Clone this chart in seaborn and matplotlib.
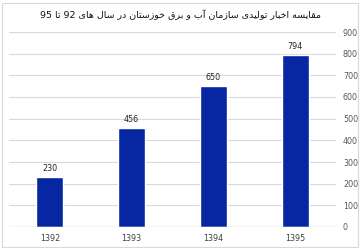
import matplotlib
matplotlib.use("Agg")
import matplotlib.pyplot as plt
import seaborn as sns
import pandas as pd
from matplotlib.patches import Rectangle

years = ["1392", "1393", "1394", "1395"]
values = [230, 456, 650, 794]
y_ticks = [0, 100, 200, 300, 400, 500, 600, 700, 800, 900]
title_text = "مقایسه اخبار تولیدی سازمان آب و برق خوزستان در سال های 92 تا 95"

# --- minimal Arabic/Persian shaping (matplotlib 3.10 has no text shaping) ---
FORMS = {  # isolated, final, initial, medial
    "ا": ("\uFE8D", "\uFE8E", None, None),
    "آ": ("\uFE81", "\uFE82", None, None),
    "ب": ("\uFE8F", "\uFE90", "\uFE91", "\uFE92"),
    "ت": ("\uFE95", "\uFE96", "\uFE97", "\uFE98"),
    "خ": ("\uFEA5", "\uFEA6", "\uFEA7", "\uFEA8"),
    "د": ("\uFEA9", "\uFEAA", None, None),
    "ر": ("\uFEAD", "\uFEAE", None, None),
    "ز": ("\uFEAF", "\uFEB0", None, None),
    "س": ("\uFEB1", "\uFEB2", "\uFEB3", "\uFEB4"),
    "ق": ("\uFED5", "\uFED6", "\uFED7", "\uFED8"),
    "ل": ("\uFEDD", "\uFEDE", "\uFEDF", "\uFEE0"),
    "م": ("\uFEE1", "\uFEE2", "\uFEE3", "\uFEE4"),
    "ن": ("\uFEE5", "\uFEE6", "\uFEE7", "\uFEE8"),
    "ه": ("\uFEE9", "\uFEEA", "\uFEEB", "\uFEEC"),
    "و": ("\uFEED", "\uFEEE", None, None),
    "ی": ("\uFBFC", "\uFBFD", "\uFBFE", "\uFBFF"),
}


def shape_word(word):
    out = []
    n = len(word)
    for i, ch in enumerate(word):
        if ch not in FORMS:
            out.append(ch)
            continue
        f = FORMS[ch]
        prev = word[i - 1] if i > 0 else None
        nxt = word[i + 1] if i < n - 1 else None
        join_prev = prev in FORMS and FORMS[prev][2] is not None
        join_next = nxt in FORMS and f[2] is not None
        if join_prev and join_next:
            out.append(f[3])
        elif join_prev:
            out.append(f[1])
        elif join_next:
            out.append(f[2])
        else:
            out.append(f[0])
    return "".join(out)


def visual_rtl(text):
    words = text.split(" ")
    shaped = []
    for w in words:
        if w.isdigit():
            shaped.append(w)
        else:
            shaped.append(shape_word(w)[::-1])
    return " ".join(reversed(shaped))


sns.set_theme(style="white")
plt.rcParams["font.family"] = ["DejaVu Sans"]

df = pd.DataFrame({"year": years, "value": values})

fig = plt.figure(figsize=(3.6, 2.5), dpi=100)
fig.patch.set_facecolor("white")
ax = fig.add_axes([9 / 360, 23 / 250, 327 / 360, 195 / 250])

sns.barplot(data=df, x="year", y="value", color="#0626A2", saturation=1,
            width=0.33, ax=ax, zorder=3)

ax.set_xlim(-0.5, 3.5)
ax.set_ylim(0, 900)
ax.set_yticks(y_ticks)
ax.yaxis.tick_right()
ax.grid(axis="y", color="#d9d9d9", linewidth=0.8, zorder=0)
ax.set_axisbelow(True)
for s in ax.spines.values():
    s.set_visible(False)
ax.axhline(0, color="#d0d0d0", linewidth=0.9, zorder=4)
ax.tick_params(axis="y", length=0, pad=5, labelsize=5.8, labelcolor="#595959")
ax.tick_params(axis="x", length=0, pad=5, labelsize=5.8, labelcolor="#404040")
ax.set_xlabel("")
ax.set_ylabel("")

for c in ax.containers:
    ax.bar_label(c, labels=[str(v) for v in values], padding=3,
                 fontsize=5.8, color="#262626")

fig.text(0.5, 0.94, visual_rtl(title_text), ha="center", va="center",
         fontsize=6.8, color="#111111")

# outer chart border
fig.patches.append(Rectangle((2 / 360, 3 / 250), 356 / 360, 244 / 250,
                             transform=fig.transFigure, fill=False,
                             edgecolor="#d9d9d9", linewidth=0.8))

fig.savefig("out.png", dpi=100)
